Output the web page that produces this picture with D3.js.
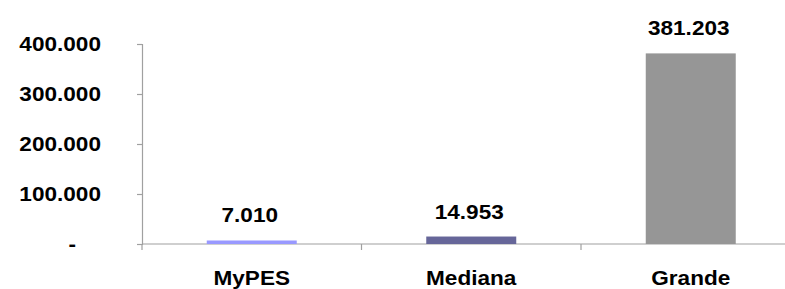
<!DOCTYPE html>
<html>
<head>
<meta charset="utf-8">
<script src="https://cdn.jsdelivr.net/npm/d3@7"></script>
<style>
  html, body { margin: 0; padding: 0; background: #fff; }
  svg { display: block; }
  text { font-family: Arial, "Liberation Sans", sans-serif; font-weight: bold; font-size: 20px; fill: #000; }
</style>
</head>
<body>
<svg id="chart" width="785" height="289"></svg>
<script>
const categories = ["MyPES", "Mediana", "Grande"];
const values = [7010, 14953, 381203];
const valueLabels = ["7.010", "14.953", "381.203"];
const colors = ["#9999FF", "#666699", "#969696"];
const yTicks = [0, 100000, 200000, 300000, 400000];
const yTickLabels = ["-", "100.000", "200.000", "300.000", "400.000"];

const svg = d3.select("#chart");
const SX = 1.13; // horizontal text stretch seen in the reference

const x = d3.scaleBand().domain(categories).range([142, 800.5])
  .paddingInner(0.59).paddingOuter(0.295);
const y = d3.scaleLinear().domain([0, 400000]).range([244, 44]);

const axisColor = "#A0A0A0";

// Y axis
const yAxis = d3.axisLeft(y).tickValues(yTicks).tickSize(5).tickFormat("");
const gy = svg.append("g").attr("transform", "translate(142,0)").call(yAxis);
gy.select(".domain").attr("stroke", axisColor).attr("stroke-width", 1.2);
gy.selectAll(".tick line").attr("stroke", axisColor).attr("stroke-width", 1.2);

// Y tick labels (stretched text)
svg.append("g").selectAll("text").data(yTicks).join("text")
  .attr("text-anchor", "end")
  .attr("transform", (d, i) => `translate(${d === 0 ? 76 : 101},${y(d) + 7}) scale(${SX},1)`)
  .text((d, i) => yTickLabels[i]);

// X axis line
svg.append("line")
  .attr("x1", 142).attr("x2", 785).attr("y1", y(0)).attr("y2", y(0))
  .attr("stroke", axisColor).attr("stroke-width", 1.2);

// Category boundary ticks
const step = x.step();
const boundaries = d3.range(categories.length + 1).map(i => x.range()[0] + i * step);
svg.append("g").selectAll("line").data(boundaries).join("line")
  .attr("x1", d => d).attr("x2", d => d)
  .attr("y1", y(0)).attr("y2", y(0) + 6)
  .attr("stroke", axisColor).attr("stroke-width", 1.2);

// Bars
svg.append("g").selectAll("rect").data(values).join("rect")
  .attr("x", (d, i) => x(categories[i]))
  .attr("width", x.bandwidth())
  .attr("y", d => y(d))
  .attr("height", d => y(0) - y(d))
  .attr("fill", (d, i) => colors[i]);

// Value labels
svg.append("g").selectAll("text").data(values).join("text")
  .attr("text-anchor", "middle")
  .attr("transform", (d, i) => `translate(${x(categories[i]) + x.bandwidth() / 2 - 2},${Math.min(y(d) - 18, 224)}) scale(${SX},1)`)
  .text((d, i) => valueLabels[i]);

// Category labels
svg.append("g").selectAll("text").data(categories).join("text")
  .attr("text-anchor", "middle")
  .attr("transform", d => `translate(${x(d) + x.bandwidth() / 2},284.5) scale(${SX},1)`)
  .text(d => d);
</script>
</body>
</html>
